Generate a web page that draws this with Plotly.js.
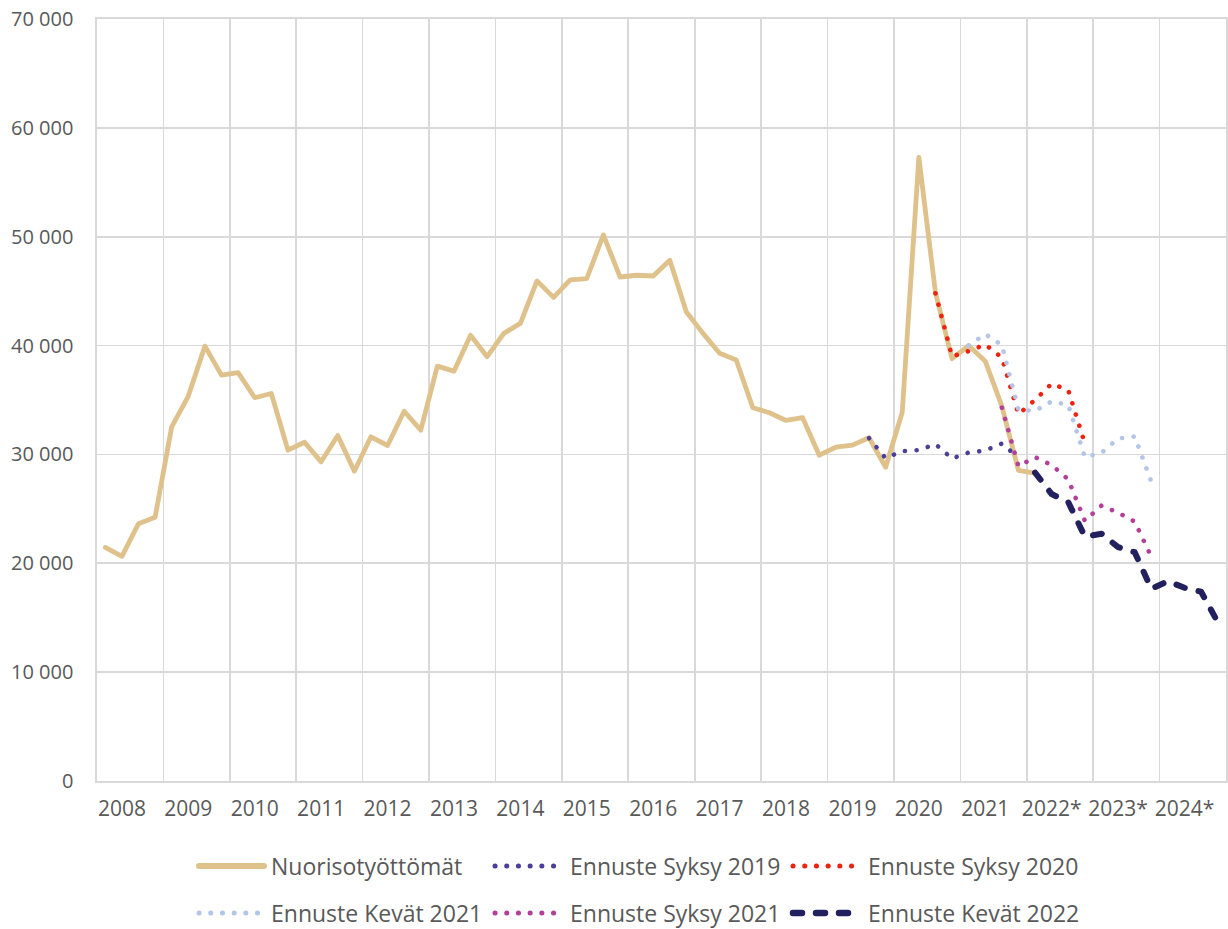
<!DOCTYPE html>
<html>
<head>
<meta charset="utf-8">
<script src="https://cdn.plot.ly/plotly-3.0.1.min.js"></script>
<style>
html, body { margin: 0; padding: 0; background: #ffffff; }
#chart { width: 1228px; height: 929px; }
.js-line, .shapelayer path { stroke-linecap: round !important; stroke-linejoin: round !important; }
</style>
</head>
<body>
<div id="chart"></div>
<script>
// ---- Data (quarterly) ----
const years = ['2008','2009','2010','2011','2012','2013','2014','2015','2016','2017','2018','2019','2020','2021','2022*','2023*','2024*'];

const nuorisotyottomatStart = '2008 Q1';
const nuorisotyottomat = [
  21460, 20640, 23640, 24220,
  32540, 35360, 39950, 37290,
  37510, 35210, 35600, 30390,
  31120, 29320, 31740, 28460,
  31620, 30820, 33970, 32230,
  38110, 37650, 40940, 38980,
  41120, 42040, 45940, 44430,
  46030, 46160, 50170, 46300,
  46460, 46390, 47840, 43080,
  41120, 39300, 38670, 34290,
  33830, 33120, 33370, 29930,
  30660, 30850, 31530, 28820,
  33880, 57290, 44870, 38790,
  40000, 38570, 34430, 28530,
  28280
];

const syksy2019Start = '2019 Q3';
const ennusteSyksy2019 = [31500, 29650, 30300, 30400, 30950, 29620, 30170, 30350, 31000, 29700];

const syksy2020Start = '2020 Q3';
const ennusteSyksy2020 = [44800, 39000, 39500, 40100, 38900, 33700, 35000, 36500, 35900, 31000];

const kevat2021Start = '2021 Q1';
const ennusteKevat2021 = [40000, 41050, 40050, 34100, 34000, 34870, 34550, 29750, 30150, 31460, 31650, 27500];

const syksy2021Start = '2021 Q3';
const ennusteSyksy2021 = [34300, 28900, 29750, 29020, 27700, 23900, 25300, 24650, 23830, 20600];

const kevat2022Start = '2022 Q1';
const ennusteKevat2022 = [28330, 26360, 25610, 22450, 22720, 21480, 21020, 17660, 18350, 17750, 17390, 14600];

const seriesNames = ['Nuorisotyöttömät', 'Ennuste Syksy 2019', 'Ennuste Syksy 2020', 'Ennuste Kevät 2021', 'Ennuste Syksy 2021', 'Ennuste Kevät 2022'];

// ---- Helpers ----
function quarterIndex(label) {
  const parts = label.split(' Q');
  const yi = years.findIndex(v => v.replace('*', '') === parts[0]);
  return yi * 4 + (parseInt(parts[1], 10) - 1);
}
function xsFor(start, values) {
  const s = quarterIndex(start);
  return values.map((_, i) => s + i);
}

const styles = [
  { color: '#DFC18C', width: 4.8, dash: 'solid' },
  { color: '#4E3D98', width: 4.6, dash: '0.1px,11.6px' },
  { color: '#EE2211', width: 4.6, dash: '0.1px,11.6px' },
  { color: '#B4C6E7', width: 4.6, dash: '0.1px,11.6px' },
  { color: '#B33F98', width: 4.6, dash: '0.1px,11.6px' },
  { color: '#22205E', width: 6,   dash: '9px,14px' }
];

const seriesData = [
  [nuorisotyottomatStart, nuorisotyottomat],
  [syksy2019Start, ennusteSyksy2019],
  [syksy2020Start, ennusteSyksy2020],
  [kevat2021Start, ennusteKevat2021],
  [syksy2021Start, ennusteSyksy2021],
  [kevat2022Start, ennusteKevat2022]
];

const traces = seriesData.map((sd, i) => ({
  type: 'scatter',
  mode: 'lines',
  name: seriesNames[i],
  x: xsFor(sd[0], sd[1]),
  y: sd[1],
  line: { color: styles[i].color, width: styles[i].width, dash: styles[i].dash },
  hoverinfo: 'skip',
  showlegend: false
}));

const nQuarters = years.length * 4;
const gridColor = '#D9D9D9';
const textColor = '#595959';
const fontFam = '"Open Sans", "Noto Sans", sans-serif';

// ---- Custom legend (long line samples like the original) ----
const W = 1228, H = 929;
const mL = 97, mR = 2, mT = 19, mB = 148;
const plotW = W - mL - mR, plotH = H - mT - mB;
const px2x = p => (p - mL) / plotW;
const py2y = p => (H - mB - p) / plotH;

const legendCols = [196, 492, 790];
const legendTextStart = [271, 570, 868];
const legendRows = [866, 913];
const shapes = [];
const annotations = [];
seriesNames.forEach((name, i) => {
  const c = i % 3;
  const col = legendCols[c];
  const row = legendRows[Math.floor(i / 3)];
  const st = styles[i];
  shapes.push({
    type: 'line', xref: 'paper', yref: 'paper',
    x0: px2x(col + 3), x1: px2x(col + 68), y0: py2y(row), y1: py2y(row),
    line: { color: st.color, width: i === 0 ? 6 : (i === 5 ? 6.5 : 5), dash: st.dash }
  });
  annotations.push({
    xref: 'paper', yref: 'paper', x: px2x(legendTextStart[c] - 2), y: py2y(row),
    xanchor: 'left', yanchor: 'middle', showarrow: false,
    text: name, font: { family: fontFam, size: 23, color: textColor }
  });
});

const layout = {
  width: W, height: H,
  margin: { l: mL, r: mR, t: mT, b: mB },
  paper_bgcolor: '#ffffff', plot_bgcolor: '#ffffff',
  separators: ', ',
  showlegend: false,
  font: { family: fontFam, size: 21, color: textColor },
  xaxis: {
    range: [-0.5, nQuarters - 0.5],
    tickmode: 'array',
    tickvals: years.map((_, i) => i * 4 + 1),
    ticktext: years,
    showgrid: false,
    minor: {
      tickmode: 'array',
      tickvals: years.map((_, i) => i * 4 - 0.5).concat([nQuarters - 0.5]),
      showgrid: true, gridcolor: gridColor, gridwidth: 1.6, ticks: ''
    },
    ticks: 'outside', ticklen: 8, tickcolor: 'rgba(0,0,0,0)',
    tickfont: { family: fontFam, size: 21, color: textColor },
    showline: true, linecolor: gridColor, linewidth: 1.6, mirror: true,
    zeroline: false, fixedrange: true, automargin: false
  },
  yaxis: {
    range: [0, 70000],
    tickmode: 'linear', tick0: 0, dtick: 10000,
    tickformat: ',d',
    showgrid: true, gridcolor: gridColor, gridwidth: 1.6,
    ticks: 'outside', ticklen: 18, tickcolor: 'rgba(0,0,0,0)',
    tickfont: { family: fontFam, size: 20, color: textColor },
    showline: true, linecolor: gridColor, linewidth: 1.6, mirror: true,
    zeroline: false, fixedrange: true, automargin: false
  },
  shapes: shapes,
  annotations: annotations
};

Plotly.newPlot('chart', traces, layout, { displayModeBar: false, staticPlot: true });
</script>
</body>
</html>
